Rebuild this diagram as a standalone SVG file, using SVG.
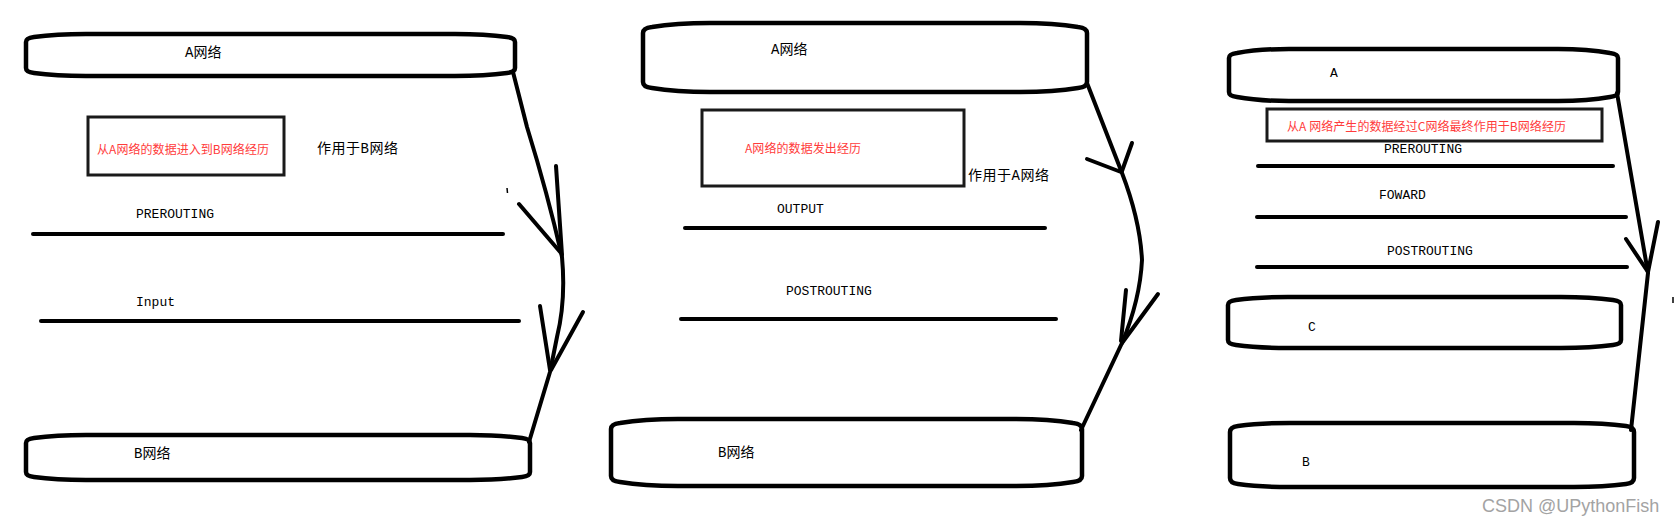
<svg xmlns="http://www.w3.org/2000/svg" width="1675" height="524" viewBox="0 0 1675 524">
<style>
.shape{fill:#fff;stroke:#000;stroke-width:4.5;stroke-linejoin:round}
.rule{stroke:#000;stroke-width:4;stroke-linecap:round;fill:none}
.box{fill:#fff;stroke:#1a1a1a;stroke-width:3}
.conn{stroke:#000;stroke-width:4;fill:none;stroke-linecap:round;stroke-linejoin:round}
.lbl{font-family:"Liberation Mono","Noto Sans CJK SC",monospace;font-size:14px;fill:#000;dominant-baseline:central}
.mono{font-family:"Liberation Mono",monospace;font-size:13px;fill:#000;dominant-baseline:central}
.red{font-family:"Noto Sans CJK SC",sans-serif;font-size:12px;fill:#ff3b3b;dominant-baseline:central}
.wm{font-family:"Liberation Sans",sans-serif;font-size:18px;fill:#a3a3a3;dominant-baseline:central}
</style>
<rect width="1675" height="524" fill="#fff"/>

<!-- Panel 1 -->
<g id="p1-A">
<path class="shape" d="M26,42 Q26,38 34,37 Q56,34 86,34 L455,34 Q485,34 507,37 Q515,38 515,42 L515,68 Q515,72 507,73 Q485,76 455,76 L86,76 Q56,76 34,73 Q26,72 26,68 Z"/>
<text class="lbl" x="185" y="53">A网络</text>
</g>
<g id="p1-note">
<rect class="box" x="88" y="117" width="196" height="58"/>
<text class="red" x="97" y="148" textLength="172">从A网络的数据进入到B网络经历</text>
</g>
<text id="p1-scope" class="lbl" x="317" y="149" textLength="81">作用于B网络</text>
<g id="p1-prerouting">
<text class="mono" x="136" y="214">PREROUTING</text>
<line class="rule" x1="33" y1="234" x2="503" y2="234"/>
</g>
<g id="p1-input">
<text class="mono" x="136" y="302">Input</text>
<line class="rule" x1="41" y1="321" x2="519" y2="321"/>
</g>
<g id="p1-B">
<path class="shape" d="M26,443 Q26,439 34,438 Q56,435 86,435 L470,435 Q500,435 522,438 Q530,439 530,443 L530,472 Q530,476 522,477 Q500,480 470,480 L86,480 Q56,480 34,477 Q26,476 26,472 Z"/>
<text class="lbl" x="134" y="454">B网络</text>
</g>

<!-- Panel 2 -->
<g id="p2-A">
<path class="shape" d="M643,33 Q643,28 652,27 Q676,23 710,23 L1020,23 Q1054,23 1078,27 Q1087,28 1087,33 L1087,82 Q1087,87 1078,88 Q1054,92 1020,92 L710,92 Q676,92 652,88 Q643,87 643,82 Z"/>
<text class="lbl" x="771" y="50">A网络</text>
</g>
<g id="p2-note">
<rect class="box" x="702" y="110" width="262" height="76"/>
<text class="red" x="745" y="147" textLength="116">A网络的数据发出经历</text>
</g>
<text id="p2-scope" class="lbl" x="968" y="176" textLength="81">作用于A网络</text>
<g id="p2-output">
<text class="mono" x="777" y="209">OUTPUT</text>
<line class="rule" x1="685" y1="228" x2="1045" y2="228"/>
</g>
<g id="p2-postrouting">
<text class="mono" x="786" y="291">POSTROUTING</text>
<line class="rule" x1="681" y1="319" x2="1056" y2="319"/>
</g>
<g id="p2-B">
<path class="shape" d="M611,429 Q611,424 620,423 Q644,419 678,419 L1015,419 Q1049,419 1073,423 Q1082,424 1082,429 L1082,476 Q1082,481 1073,482 Q1049,486 1015,486 L678,486 Q644,486 620,482 Q611,481 611,476 Z"/>
<text class="lbl" x="718" y="453">B网络</text>
</g>

<!-- Panel 3 -->
<g id="p3-A">
<path class="shape" d="M1229,58 Q1229,54 1237,53 Q1259,49 1289,49 L1558,49 Q1588,49 1610,53 Q1618,54 1618,58 L1618,92 Q1618,96 1610,97 Q1588,101 1558,101 L1289,101 Q1259,101 1237,97 Q1229,96 1229,92 Z"/>
<text class="mono" x="1330" y="73">A</text>
</g>
<g id="p3-note">
<rect class="box" x="1267" y="109" width="335" height="32"/>
<text class="red" x="1287" y="125" textLength="279">从A 网络产生的数据经过C网络最终作用于B网络经历</text>
</g>
<g id="p3-prerouting">
<text class="mono" x="1384" y="149">PREROUTING</text>
<line class="rule" x1="1258" y1="166" x2="1613" y2="166"/>
</g>
<g id="p3-foward">
<text class="mono" x="1379" y="195">FOWARD</text>
<line class="rule" x1="1257" y1="217" x2="1626" y2="217"/>
</g>
<g id="p3-postrouting">
<text class="mono" x="1387" y="251">POSTROUTING</text>
<line class="rule" x1="1257" y1="267" x2="1627" y2="267"/>
</g>
<g id="p3-C">
<path class="shape" d="M1228,305 Q1228,301 1236,300 Q1258,297 1288,297 L1561,297 Q1591,297 1613,300 Q1621,301 1621,305 L1621,340 Q1621,344 1613,345 Q1591,348 1561,348 L1288,348 Q1258,348 1236,345 Q1228,344 1228,340 Z"/>
<text class="mono" x="1308" y="327">C</text>
</g>
<g id="p3-B">
<path class="shape" d="M1230,432 Q1230,427 1238,426 Q1260,423 1290,423 L1574,423 Q1604,423 1626,426 Q1634,427 1634,432 L1634,478 Q1634,483 1626,484 Q1604,487 1574,487 L1290,487 Q1260,487 1238,484 Q1230,483 1230,478 Z"/>
<text class="mono" x="1302" y="462">B</text>
</g>

<!-- Connectors -->
<g id="connectors">
<path class="conn" d="M513,72 L527,127 Q548,195 562,257 Q566,300 557,337 L550,372 L529,442"/>
<path class="conn" d="M519,204 L561,253 M556,166 L562,255"/>
<path class="conn" d="M540,306 L550,370 M583,312 L551,370"/>
<path class="conn" d="M1087,83 L1122,173 Q1140,220 1142,260 Q1140,300 1122,343 L1081,430"/>
<path class="conn" d="M1087,159 L1121,172 M1132,143 L1122,171"/>
<path class="conn" d="M1126,290 L1121,341 M1158,294 L1122,343"/>
<path class="conn" d="M1617,93 L1648,273 L1631,430"/>
<path class="conn" d="M1626,239 L1648,272 M1658,222 L1648,272"/>
</g>

<g id="marks">
<line x1="507" y1="188" x2="507.5" y2="193" stroke="#000" stroke-width="1.5"/>
<line x1="1673" y1="297" x2="1673" y2="303" stroke="#000" stroke-width="1.5"/>
</g>

<text class="wm" x="1482" y="506">CSDN @UPythonFish</text>
</svg>
